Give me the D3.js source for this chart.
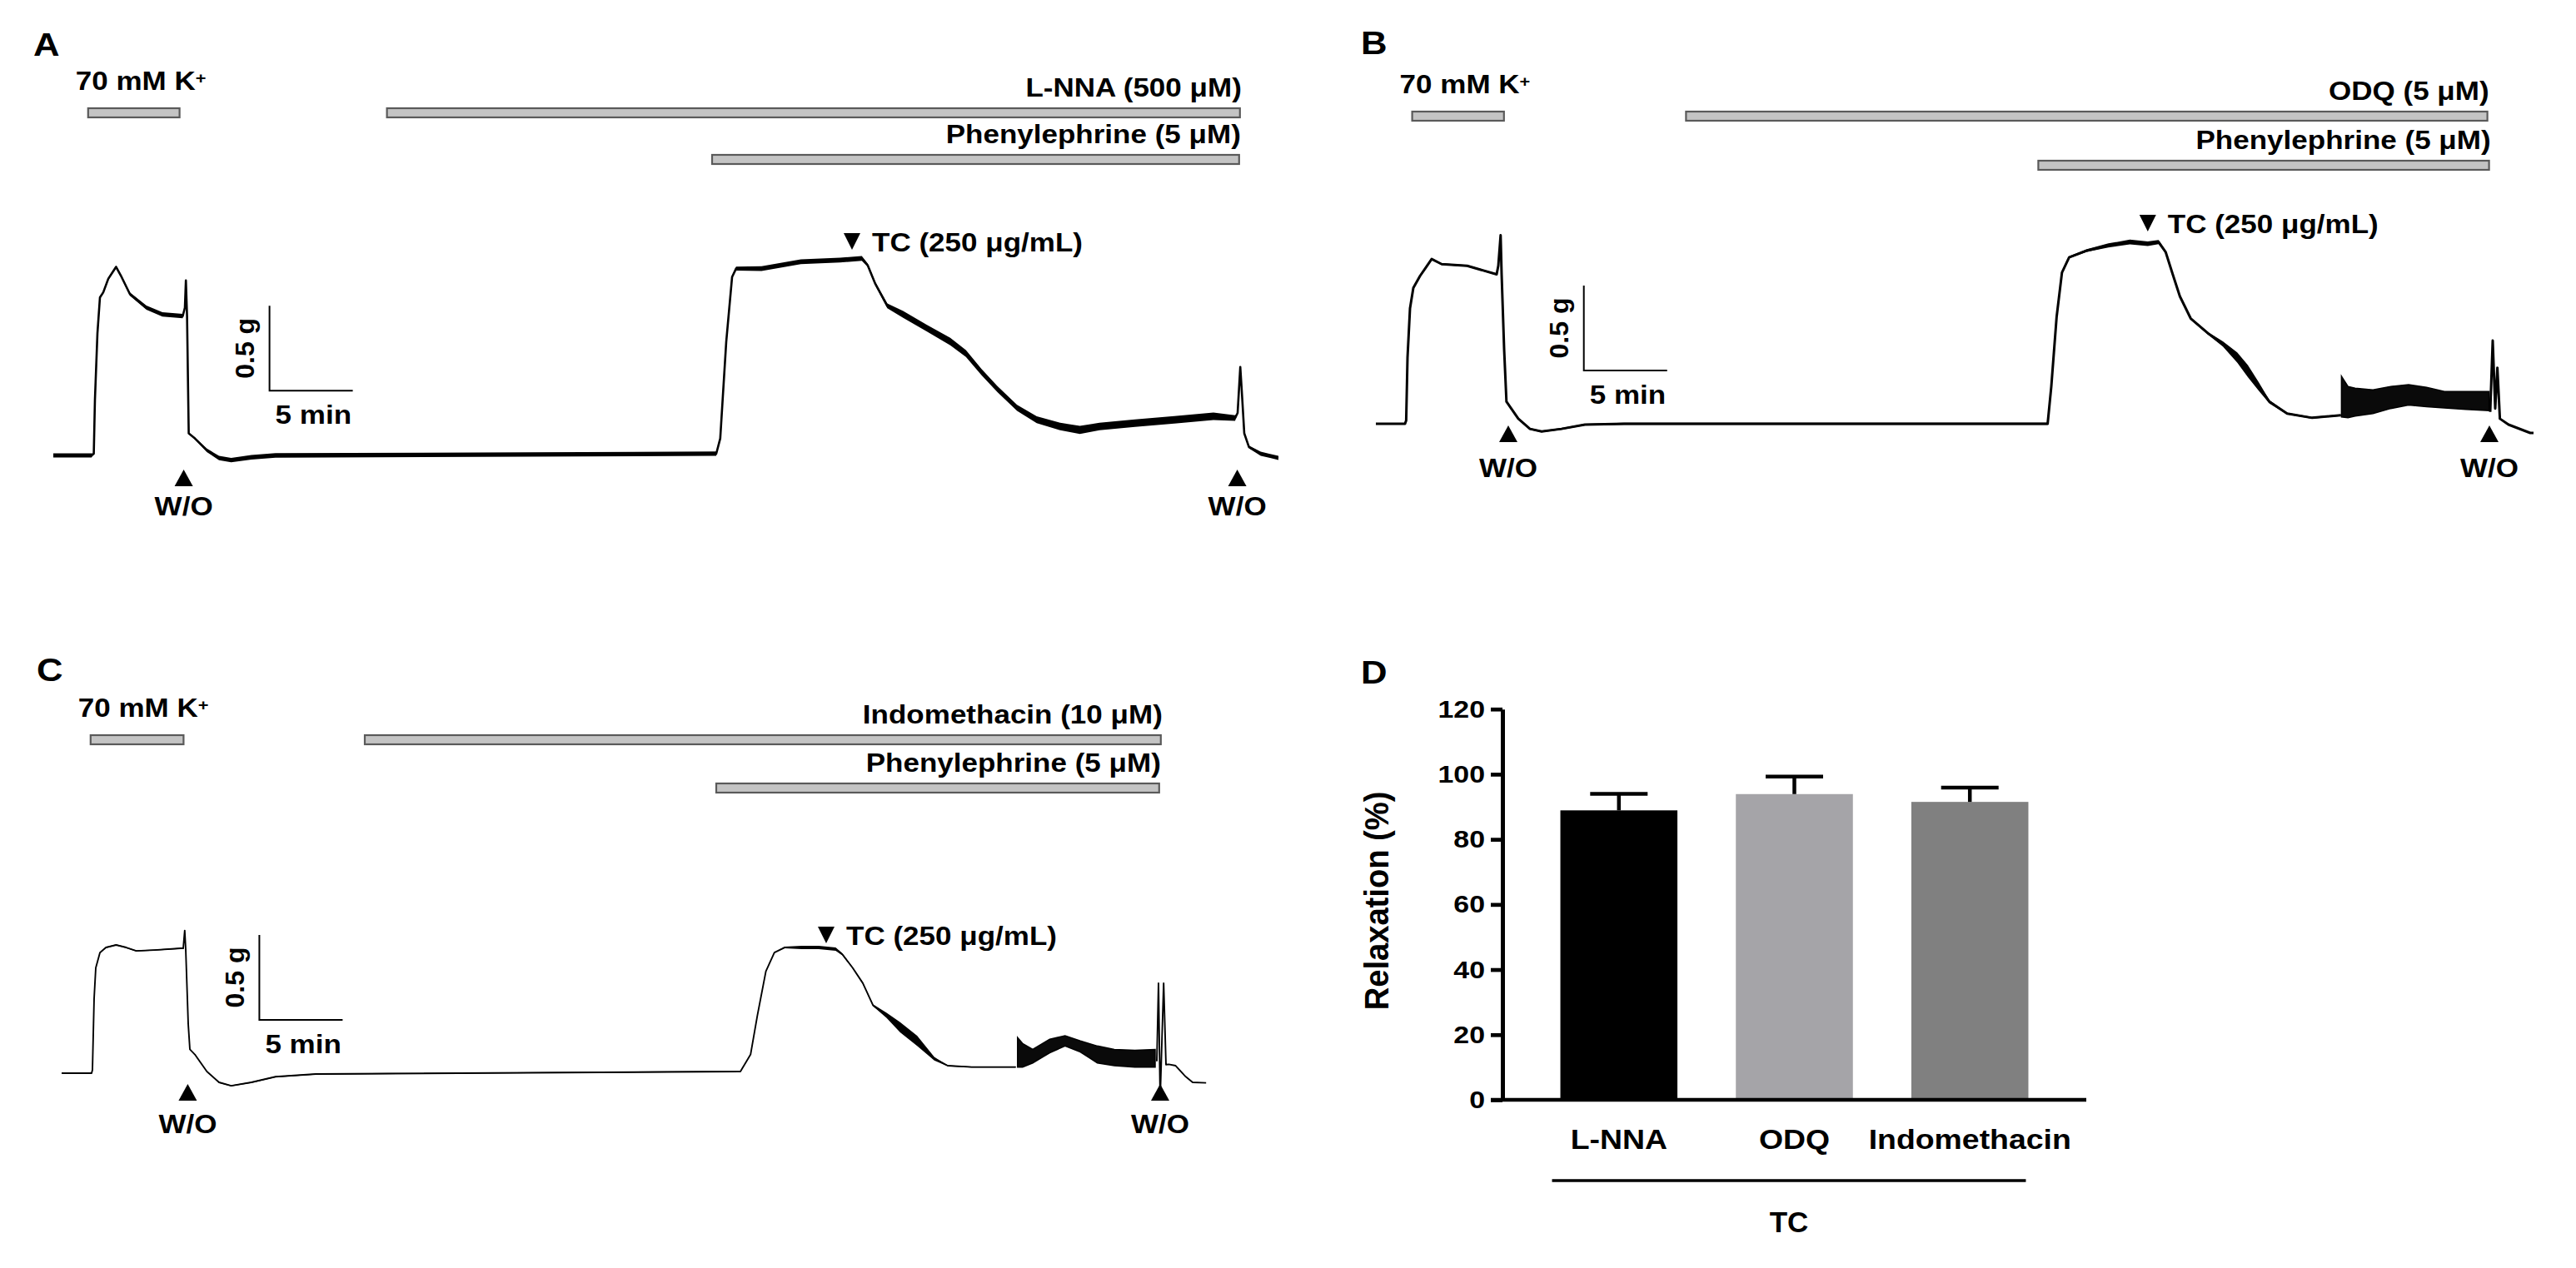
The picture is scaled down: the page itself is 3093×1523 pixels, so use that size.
<!DOCTYPE html>
<html><head><meta charset="utf-8">
<script src="https://cdn.jsdelivr.net/npm/d3@7"></script>
<style>
body{margin:0;background:#fff}
svg{display:block}
</style>
</head><body>
<svg id="c" width="3093" height="1523"></svg>
<script>
// ================= DATA =================
// Tension traces: [time (min), tension (g), noise half-amplitude (g)]; null = gap covered by oscillation band
const traceA = [
[0,0,0.012],[2.3,0,0.012],[2.43,0.01,0],[2.5,0.33,0],[2.65,0.72,0],[2.8,0.93,0.004],[3.0,0.96,0.008],[3.3,1.04,0.008],[3.77,1.11,0.008],[4.05,1.06,0.008],[4.6,0.95,0.01],[5.59,0.87,0.012],[6.55,0.83,0.013],[7.77,0.82,0.013],[7.9,0.87,0],[7.96,1.03,0],[8.03,0.82,0],[8.13,0.13,0],[8.5,0.10,0.006],[9.22,0.03,0.01],[9.95,-0.015,0.013],[10.68,-0.028,0.013],[11.89,-0.011,0.013],[13.34,0,0.013],[39.8,0.01,0.013],[40.04,0.10,0],[40.4,0.67,0],[40.75,1.05,0],[40.99,1.10,0.012],[42.52,1.10,0.014],[44.88,1.14,0.014],[47.24,1.15,0.014],[48.54,1.16,0.014],[48.89,1.12,0.01],[49.35,1.01,0.01],[50.07,0.88,0.014],[51.02,0.83,0.02],[52.43,0.75,0.02],[53.85,0.67,0.022],[54.79,0.60,0.02],[55.73,0.49,0.018],[56.68,0.39,0.018],[57.86,0.28,0.018],[59.04,0.21,0.02],[60.45,0.17,0.022],[61.63,0.15,0.024],[62.81,0.17,0.022],[64.94,0.19,0.022],[67.3,0.21,0.022],[69.65,0.23,0.022],[70.95,0.22,0.016],[71.1,0.25,0],[71.26,0.52,0],[71.35,0.38,0],[71.5,0.13,0],[71.78,0.05,0.008],[72.49,0.01,0.012],[73.55,-0.015,0.012]
];
const traceB = [
[0,0,0.005],[1.75,0,0.005],[1.82,0.02,0],[1.9,0.39,0],[2.05,0.68,0],[2.25,0.80,0],[2.65,0.87,0.003],[3.0,0.92,0.003],[3.35,0.97,0.004],[3.95,0.94,0.005],[5.48,0.93,0.005],[7.25,0.88,0.005],[7.35,0.93,0],[7.49,1.11,0],[7.55,0.88,0],[7.7,0.44,0],[7.84,0.13,0],[8.55,0.03,0.003],[9.25,-0.03,0.005],[9.95,-0.045,0.005],[11.14,-0.03,0.005],[12.55,-0.005,0.005],[14.9,0,0.006],[40.33,0,0.006],[40.55,0.22,0],[40.87,0.63,0],[41.19,0.89,0],[41.62,0.98,0.006],[42.69,1.02,0.008],[43.98,1.05,0.012],[45.27,1.07,0.014],[46.34,1.06,0.014],[46.99,1.07,0.012],[47.42,1.01,0.006],[47.84,0.88,0.005],[48.27,0.75,0.005],[48.92,0.62,0.006],[49.99,0.53,0.008],[50.85,0.47,0.015],[51.71,0.39,0.03],[52.35,0.31,0.035],[53.0,0.22,0.025],[53.64,0.13,0.01],[54.71,0.06,0.005],[56.21,0.035,0.005],[57.93,0.05,0.005],
null,
[66.9,0.07,0],[67.05,0.49,0],[67.2,0.09,0],[67.33,0.33,0],[67.48,0.03,0],[68.0,-0.005,0.003],[69.3,-0.054,0.003],[69.5,-0.054,0.003]
];
const traceC = [
[0,0,0.003],[1.8,0,0.003],[1.85,0.02,0],[1.95,0.44,0],[2.05,0.62,0],[2.3,0.71,0],[2.66,0.74,0.003],[3.27,0.755,0.003],[3.88,0.74,0.003],[4.48,0.72,0.003],[5.57,0.725,0.003],[7.15,0.735,0.003],[7.3,0.735,0],[7.39,0.84,0],[7.45,0.73,0],[7.6,0.29,0],[7.7,0.14,0],[8.0,0.11,0],[8.72,0.01,0.002],[9.45,-0.054,0.003],[10.18,-0.074,0.003],[11.39,-0.054,0.003],[12.84,-0.021,0.003],[15.27,-0.005,0.003],[40.75,0.01,0.003],[41.36,0.11,0],[41.77,0.34,0],[42.28,0.60,0],[42.79,0.71,0],[43.4,0.74,0.005],[44.43,0.74,0.01],[45.45,0.74,0.01],[46.47,0.73,0.01],[46.87,0.70,0.006],[47.49,0.62,0.004],[48.1,0.53,0.004],[48.71,0.40,0.006],[49.53,0.34,0.015],[50.34,0.27,0.03],[51.36,0.19,0.03],[52.39,0.085,0.01],[53.2,0.044,0.003],[54.63,0.036,0.003],[57.28,0.036,0.003],
null,
[65.75,0.07,0],[65.85,0.53,0],[65.95,-0.15,0],[66.16,0.53,0],[66.3,0.05,0],[66.47,0.052,0],[66.88,0.044,0],[67.49,-0.021,0],[67.9,-0.054,0],[68.71,-0.057,0]
];
// Oscillation envelopes: [time (min), lower (g), upper (g)]
const oscB = [[57.97,0.04,0.28],[58.36,0.035,0.22],[58.79,0.045,0.21],[59.86,0.06,0.20],[60.93,0.09,0.22],[62.0,0.11,0.23],[63.08,0.10,0.215],[64.15,0.093,0.19],[65.44,0.085,0.19],[66.83,0.077,0.19]];
const oscC = [[57.39,0.036,0.21],[57.69,0.036,0.175],[58.3,0.06,0.14],[59.32,0.12,0.20],[60.24,0.16,0.22],[61.16,0.125,0.19],[62.18,0.06,0.16],[63.2,0.044,0.14],[64.43,0.036,0.135],[65.65,0.036,0.14]];

// Treatment periods (min)
const treatA = [{label:"70 mM K", sup:"+", start:2.09, end:7.58, row:0},{label:"L-NNA (500 μM)", start:20.03, end:71.24, row:0},{label:"Phenylephrine (5 μM)", start:39.55, end:71.19, row:1}];
const treatB = [{label:"70 mM K", sup:"+", start:2.18, end:7.69, row:0},{label:"ODQ (5 μM)", start:18.62, end:66.73, row:0},{label:"Phenylephrine (5 μM)", start:39.77, end:66.83, row:1}];
const treatC = [{label:"70 mM K", sup:"+", start:1.74, end:7.32, row:0},{label:"Indomethacin (10 μM)", start:18.2, end:65.99, row:0},{label:"Phenylephrine (5 μM)", start:39.3, end:65.89, row:1}];

// Wash-out times and TC addition time (min)
const washA = [7.83, 71.08], washB = [7.95, 66.85], washC = [7.57, 65.95];
const tcA = 47.95, tcB = 46.34, tcC = 45.9;
const tcLabel = "TC (250 μg/mL)";
const scaleBarMin = 5, scaleBarG = 0.5;

// Panel D
const categories = ["L-NNA", "ODQ", "Indomethacin"];
const relaxation = [88.9, 93.9, 91.5];
const sem = [5.1, 5.4, 4.4];
const barColors = ["#000000", "#a5a4a8", "#808080"];
const yTicks = [0, 20, 40, 60, 80, 100, 120];

// ================= LAYOUT =================
const FONT = '"Liberation Sans", Arial, Helvetica, sans-serif';
const PX_PER_MIN = 20, PX_PER_G = 204;
const layoutA = {x0:64, y0:547, rowTop:[130,186], woTop:564, woBase:619, tcBase:302, sbX:323.6, sbY:469.3, letter:[40,67,"A"], lw:2.6, trace:traceA, osc:null, treat:treatA, wash:washA, tc:tcA};
const layoutB = {x0:1652, y0:509, rowTop:[134,193], woTop:511, woBase:573, tcBase:280, sbX:1901.7, sbY:445, letter:[1634,65,"B"], lw:3, trace:traceB, osc:oscB, treat:treatB, wash:washB, tc:tcB};
const layoutC = {x0:74, y0:1289, rowTop:[883,941], woTop:1302, woBase:1361, tcBase:1135, sbX:311.4, sbY:1225, letter:[44,818,"C"], lw:1.9, trace:traceC, osc:oscC, treat:treatC, wash:washC, tc:tcC};

const svg = d3.select("#c");

function label(g, x, y, str, o = {}) {
  const t = g.append("text")
    .attr("transform", `translate(${x},${y})` + (o.rot ? ` rotate(${o.rot})` : "") + ` scale(${o.sx || 1},1)`)
    .attr("text-anchor", o.anchor || "start")
    .attr("font-family", FONT).attr("font-weight", "bold")
    .attr("font-size", (o.size || 31) + "px")
    .attr("fill", "#000");
  if (o.dy) t.attr("dy", o.dy);
  t.append("tspan").text(str);
  if (o.sup) t.append("tspan").attr("dy", "-0.42em").attr("font-size", "62%").text(o.sup);
  return t;
}

function drawPanel(L) {
  const g = svg.append("g");
  const x = d3.scaleLinear().domain([0, 1]).range([L.x0, L.x0 + PX_PER_MIN]);
  const y = d3.scaleLinear().domain([0, 1]).range([L.y0, L.y0 - PX_PER_G]);

  // panel letter
  label(g, L.letter[0], L.letter[1], L.letter[2], {size: 38, sx: 1.15});

  // treatment bars
  L.treat.forEach(d => {
    const top = L.rowTop[d.row];
    g.append("rect").attr("x", x(d.start)).attr("y", top)
      .attr("width", x(d.end) - x(d.start)).attr("height", 11)
      .attr("fill", "#c4c4c4").attr("stroke", "#5a5a5a").attr("stroke-width", 2.2);
    if (d.sup) label(g, x(d.start) - 15, top - 22, d.label, {sx: 1.13, sup: d.sup});
    else label(g, x(d.end) + 2, top - 14, d.label, {sx: 1.13, anchor: "end"});
  });

  // noise band
  const band = d3.area().defined(d => d !== null)
    .x(d => x(d[0])).y0(d => y(d[1] - d[2])).y1(d => y(d[1] + d[2]));
  g.append("path").attr("d", band(L.trace)).attr("fill", "#000");
  // oscillation envelope
  if (L.osc) {
    const ob = d3.area().x(d => x(d[0])).y0(d => y(d[1])).y1(d => y(d[2]));
    g.append("path").attr("d", ob(L.osc)).attr("fill", "#0a0a0a")
      .attr("stroke", "#000").attr("stroke-width", 1.5);
  }
  // trace line
  const line = d3.line().defined(d => d !== null).x(d => x(d[0])).y(d => y(d[1]));
  g.append("path").attr("d", line(L.trace)).attr("fill", "none")
    .attr("stroke", "#000").attr("stroke-width", L.lw).attr("stroke-linejoin", "round");

  // scale bar
  const hLen = x(scaleBarMin) - x(0), vLen = y(0) - y(scaleBarG);
  g.append("path").attr("d", `M${L.sbX},${L.sbY - vLen}V${L.sbY}H${L.sbX + hLen}`)
    .attr("fill", "none").attr("stroke", "#000").attr("stroke-width", 2);
  label(g, L.sbX - 30, L.sbY - vLen / 2, "0.5 g", {size: 32, rot: -90, anchor: "middle", dy: "0.36em"});
  label(g, L.sbX + 7, L.sbY + 40, "5 min", {sx: 1.13});

  // wash-out markers
  L.wash.forEach(t => {
    const cx = x(t);
    g.append("path").attr("d", `M${cx - 11},${L.woTop + 20}L${cx + 11},${L.woTop + 20}L${cx},${L.woTop}Z`).attr("fill", "#000");
    label(g, cx, L.woBase, "W/O", {sx: 1.13, anchor: "middle"});
  });
  // TC marker
  const tx = x(L.tc);
  g.append("path").attr("d", `M${tx - 10},${L.tcBase - 22}L${tx + 10},${L.tcBase - 22}L${tx},${L.tcBase - 2}Z`).attr("fill", "#000");
  label(g, tx + 24, L.tcBase, tcLabel, {sx: 1.13});
}

[layoutA, layoutB, layoutC].forEach(drawPanel);

// ================= PANEL D =================
(function () {
  const g = svg.append("g");
  const yD = d3.scaleLinear().domain([0, 120]).range([1321, 851.7]);
  const xD = d3.scaleBand().domain(categories).range([1804, 2505]).paddingInner(0.333).paddingOuter(0.33);
  const bw = xD.bandwidth();

  label(g, 1634, 821, "D", {size: 38, sx: 1.15});

  // bars
  g.selectAll("rect.bar").data(categories).enter().append("rect")
    .attr("x", d => xD(d)).attr("y", (d, i) => yD(relaxation[i]))
    .attr("width", bw).attr("height", (d, i) => yD(0) - yD(relaxation[i]))
    .attr("fill", (d, i) => barColors[i]);
  // error bars
  categories.forEach((c, i) => {
    const cx = xD(c) + bw / 2, yt = yD(relaxation[i] + sem[i]);
    g.append("line").attr("x1", cx).attr("x2", cx).attr("y1", yD(relaxation[i])).attr("y2", yt)
      .attr("stroke", "#000").attr("stroke-width", 4.5);
    g.append("line").attr("x1", cx - 34.5).attr("x2", cx + 34.5).attr("y1", yt).attr("y2", yt)
      .attr("stroke", "#000").attr("stroke-width", 4.5);
  });

  // y axis
  const sxTick = 1.13;
  const ax = g.append("g").attr("transform", "translate(1804,0)")
    .call(d3.axisLeft(yD).tickValues(yTicks).tickSize(14).tickSizeOuter(0).tickPadding(7));
  ax.select(".domain").attr("stroke", "#000").attr("stroke-width", 5);
  ax.selectAll(".tick line").attr("stroke", "#000").attr("stroke-width", 4.7);
  ax.selectAll(".tick text").attr("font-family", FONT).attr("font-weight", "bold")
    .attr("font-size", "30px").attr("fill", "#000")
    .attr("x", -21 / sxTick).attr("transform", `scale(${sxTick},1)`);

  // x axis baseline
  g.append("line").attr("x1", 1790).attr("x2", 2505).attr("y1", yD(0)).attr("y2", yD(0))
    .attr("stroke", "#000").attr("stroke-width", 4.7);

  // category labels
  categories.forEach(c => label(g, xD(c) + bw / 2, 1380, c, {size: 34, sx: 1.1, anchor: "middle"}));

  // bracket + TC
  const bx1 = xD(categories[0]) - 10, bx2 = xD(categories[2]) + bw - 3;
  g.append("line").attr("x1", bx1).attr("x2", bx2).attr("y1", 1418).attr("y2", 1418)
    .attr("stroke", "#000").attr("stroke-width", 3.5);
  label(g, (bx1 + bx2) / 2, 1480, "TC", {size: 35, anchor: "middle"});

  // y label (baseline on the right side of rotated glyphs)
  label(g, 1667, 1082, "Relaxation (%)", {size: 41, sx: 0.93, rot: -90, anchor: "middle"});
})();
</script>
</body></html>
